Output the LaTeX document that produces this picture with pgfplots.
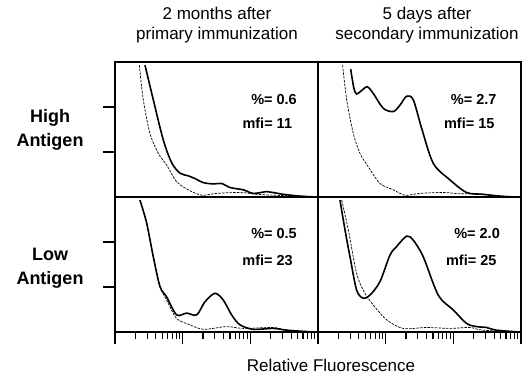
\documentclass[border=0pt]{standalone}
\usepackage{fontspec}
\setmainfont{Liberation Sans}
\usepackage{pgfplots}
\pgfplotsset{compat=1.18}
\begin{document}
\begin{tikzpicture}
\useasboundingbox (0,0) rectangle (530pt,383pt);
\tikzset{ann/.style={font=\fontsize{14.5}{16}\selectfont\bfseries, anchor=east, inner sep=0pt}}
\pgfplotsset{
  panel/.style={
    scale only axis, width=203pt, height=135pt,
    xmin=0, xmax=3, ymin=0, ymax=3,
    axis line style={line width=1.1pt},
    tick align=outside, major tick length=12pt, minor tick length=7pt,
    every tick/.style={black, line width=1.1pt},
    xticklabels={}, yticklabels={},
    anchor=south west, clip=false,
  },
  logticks/.style={xtick={0,1,2,3}, xtick pos=bottom,
    minor xtick={0.301,0.477,0.602,0.699,0.778,0.845,0.903,0.954,
                 1.301,1.477,1.602,1.699,1.778,1.845,1.903,1.954,
                 2.301,2.477,2.602,2.699,2.778,2.845,2.903,2.954}},
  noxticks/.style={xtick=\empty},
  yleft/.style={ytick={1,2}, ytick pos=left},
  noyticks/.style={ytick=\empty},
  sol/.style={black, line width=1.6pt, smooth, tension=0.5},
  das/.style={black, line width=0.7pt, dash pattern=on 2.5pt off 1.2pt, smooth, tension=0.5},
}
% top-left
\begin{axis}[panel, noxticks, yleft, at={(115pt,186pt)}]
\addplot[das] coordinates {(0.36,2.93)(0.418,2.16)(0.517,1.41)(0.64,0.97)(0.763,0.71)(0.911,0.34)(1.083,0.16)(1.28,0.04)(1.50,0.08)(1.846,0.10)(2.093,0.06)(2.34,0.04)(2.73,0.02)(2.98,0)};
\addplot[sol] coordinates {(0.443,2.93)(0.566,2.16)(0.713,1.27)(0.838,0.76)(0.960,0.53)(1.083,0.47)(1.182,0.41)(1.304,0.32)(1.452,0.29)(1.576,0.30)(1.699,0.21)(1.895,0.16)(2.043,0.08)(2.241,0.12)(2.334,0.10)(2.486,0.06)(2.733,0.02)(2.979,0.0)};
\node[ann] at (axis cs:2.69,2.16) {\%= 0.6};
\node[ann] at (axis cs:2.62,1.64) {mfi= 11};
\end{axis}
% top-right
\begin{axis}[panel, noxticks, noyticks, at={(318pt,186pt)}]
\addplot[das] coordinates {(0.364,2.93)(0.424,2.16)(0.522,1.41)(0.620,0.97)(0.743,0.67)(0.916,0.30)(1.113,0.16)(1.285,0.04)(1.507,0.08)(1.851,0.10)(2.10,0.07)(2.245,0.07)(2.59,0.04)(2.98,0)};
\addplot[sol] coordinates {(0.483,2.84)(0.530,2.42)(0.571,2.29)(0.640,2.36)(0.728,2.45)(0.817,2.30)(0.965,1.97)(1.113,1.90)(1.211,2.04)(1.31,2.24)(1.408,2.16)(1.531,1.53)(1.703,0.75)(1.95,0.38)(2.196,0.10)(2.44,0.06)(2.74,0.01)(2.98,0)};
\node[ann] at (axis cs:2.64,2.16) {\%= 2.7};
\node[ann] at (axis cs:2.61,1.64) {mfi= 15};
\end{axis}
% bottom-left
\begin{axis}[panel, logticks, yleft, at={(115pt,51pt)}]
\addplot[das] coordinates {(0.369,2.93)(0.468,2.42)(0.566,1.67)(0.665,1.01)(0.763,0.71)(0.911,0.30)(1.108,0.16)(1.31,0.06)(1.65,0.12)(1.895,0.08)(2.34,0.10)(2.54,0.04)(3,0)};
\addplot[sol] coordinates {(0.369,2.93)(0.468,2.42)(0.566,1.67)(0.665,1.01)(0.763,0.78)(0.911,0.38)(1.059,0.42)(1.207,0.38)(1.329,0.67)(1.477,0.86)(1.60,0.71)(1.724,0.38)(1.846,0.16)(2.043,0.06)(2.34,0.08)(2.54,0.04)(2.83,0.01)(3,0)};
\node[ann] at (axis cs:2.69,2.18) {\%= 0.5};
\node[ann] at (axis cs:2.63,1.6) {mfi= 23};
\end{axis}
% bottom-right
\begin{axis}[panel, logticks, noyticks, at={(318pt,51pt)}]
\addplot[das] coordinates {(0.35,2.93)(0.448,2.27)(0.571,1.30)(0.694,0.86)(0.817,0.60)(1.015,0.27)(1.26,0.08)(1.606,0.10)(1.95,0.08)(2.245,0.10)(2.44,0.04)(2.98,0)};
\addplot[sol] coordinates {(0.325,2.93)(0.399,2.27)(0.473,1.67)(0.571,0.93)(0.670,0.75)(0.768,0.82)(0.916,1.12)(1.064,1.71)(1.162,1.90)(1.31,2.13)(1.408,2.04)(1.556,1.67)(1.777,0.82)(1.999,0.49)(2.196,0.19)(2.344,0.12)(2.49,0.10)(2.64,0.04)(2.98,0)};
\node[ann] at (axis cs:2.69,2.18) {\%= 2.0};
\node[ann] at (axis cs:2.64,1.6) {mfi= 25};
\end{axis}
% titles and labels
\node[align=center, font=\fontsize{17}{20}\selectfont] at (217pt,358pt) {2 months after\\primary immunization};
\node[align=center, font=\fontsize{17}{20}\selectfont] at (427pt,358pt) {5 days after\\secondary immunization};
\node[align=center, font=\fontsize{18}{24}\selectfont\bfseries] at (50pt,253pt) {High\\Antigen};
\node[align=center, font=\fontsize{18}{24}\selectfont\bfseries] at (50pt,115pt) {Low\\Antigen};
\node[font=\fontsize{17}{20}\selectfont] at (331pt,18pt) {Relative Fluorescence};
\end{tikzpicture}
\end{document}
